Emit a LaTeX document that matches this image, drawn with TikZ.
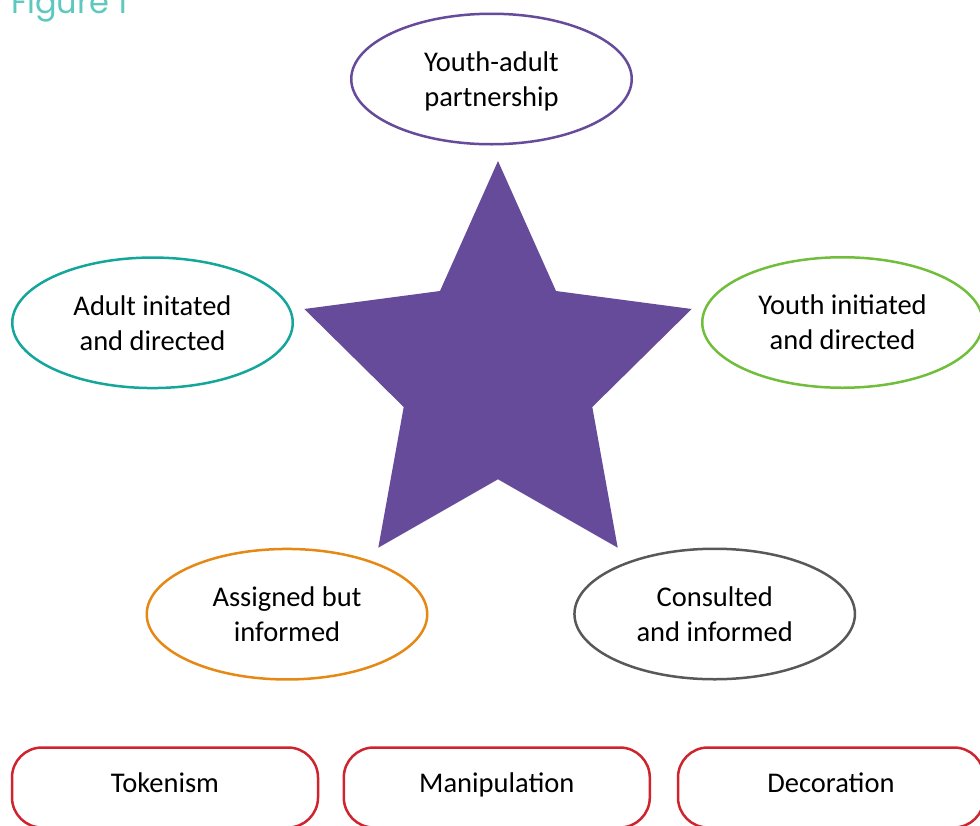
\documentclass[tikz,border=0pt]{standalone}
\usepackage{fontspec}
\setmainfont{Carlito}
\newfontfamily\figfont{Poppins}
\usepackage{tikz}
\usetikzlibrary{shapes,positioning,calc}
\definecolor{starpurple}{RGB}{103,75,155}
\definecolor{adultteal}{RGB}{20,166,155}
\definecolor{youthgreen}{RGB}{112,190,60}
\definecolor{assignorange}{RGB}{230,136,20}
\definecolor{consultgrey}{RGB}{88,88,90}
\definecolor{trapred}{RGB}{206,36,46}
\definecolor{figteal}{RGB}{92,200,190}

\begin{document}
\begin{tikzpicture}[x=1pt, y=-1pt,
	stage/.style={draw, ellipse, line width=2.5pt, minimum width=280.5pt, minimum height=130.5pt, align=center, font=\fontsize{28.5}{35}\selectfont, text depth=-5pt},
	trap/.style={draw=trapred, rounded corners=30pt, line width=2.5pt, minimum width=306pt, minimum height=80pt, font=\fontsize{28.5}{35}\selectfont, text height=19pt, text depth=9pt}]
		\useasboundingbox (0,0) rectangle (980,825);
		\node[anchor=base west, inner sep=0pt, text=figteal, font=\figfont\fontsize{32}{38}\selectfont] (fig) at (11,13) {Figure 1};
		\fill[starpurple] (498,161) -- (556,291) -- (691.7,309) -- (592.3,407) -- (617.7,547.7) -- (498,479.3) -- (378.3,547.7) -- (403.7,407) -- (304.3,309) -- (440,291) -- cycle;
		\node[stage, draw=starpurple] (partner) at (491.5,79) {Youth-adult\\partnership};
		\node[stage, draw=adultteal] (adult) at (152.5,322.8) {Adult initated\\and directed};
		\node[stage, draw=youthgreen] (youth) at (842.5,322.5) {Youth initiated\\and directed};
		\node[stage, draw=assignorange] (assign) at (287,614.2) {Assigned but\\informed};
		\node[stage, draw=consultgrey] (consult) at (714.7,614) {Consulted\\and informed};
		\node[trap] (token) at (165,787.5) {Tokenism};
		\node[trap] (manip) at (496.8,787.5) {Manipulation};
		\node[trap] (decor) at (831,787.5) {Decoration};
\end{tikzpicture}
\end{document}
